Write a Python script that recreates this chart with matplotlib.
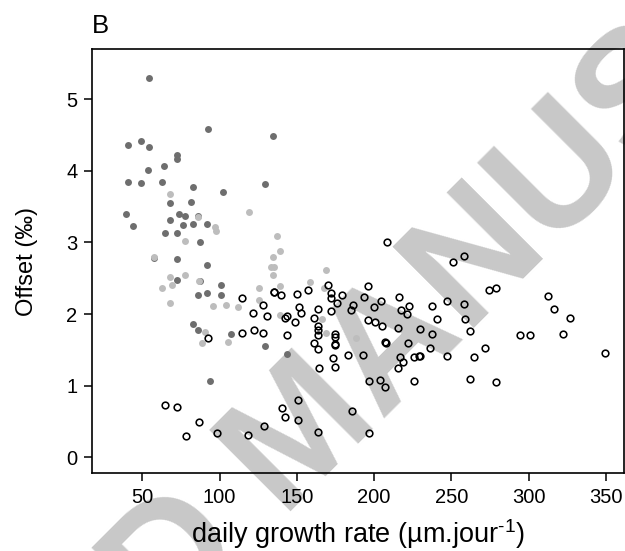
import matplotlib
matplotlib.use("Agg")
import matplotlib.pyplot as plt

plt.rcParams['font.family'] = ['Liberation Sans', 'DejaVu Sans']
plt.rcParams['mathtext.fontset'] = 'custom'
plt.rcParams['mathtext.rm'] = 'Liberation Sans'
plt.rcParams['mathtext.it'] = 'Liberation Sans'

# group 1: dark grey filled points
dark_x = [54.3, 92.6, 40.7, 49.1, 54.3, 72.5, 72.5, 64.0, 53.7, 40.7, 49.1, 62.7, 82.8, 102.3,
          67.9, 81.5, 39.4, 43.9, 73.8, 77.6, 86.1, 67.9, 76.3, 82.8, 91.9, 64.7, 72.5, 87.4,
          57.5, 72.5, 91.9, 134.5, 129.5, 72.5, 87.4, 101.0, 86.1, 91.9, 101.0, 82.8, 86.1,
          107.5, 93.8, 129.5, 143.7]
dark_y = [5.29, 4.58, 4.36, 4.42, 4.33, 4.17, 4.22, 4.07, 4.01, 3.85, 3.83, 3.85, 3.78, 3.71,
          3.55, 3.57, 3.39, 3.23, 3.39, 3.37, 3.37, 3.31, 3.24, 3.26, 3.25, 3.13, 3.13, 3.01,
          2.78, 2.77, 2.69, 4.49, 3.81, 2.48, 2.46, 2.40, 2.27, 2.29, 2.26, 1.86, 1.77,
          1.72, 1.07, 1.55, 1.44]

# group 2: light grey filled points
light_x = [67.9, 97.1, 97.7, 119.1, 77.6, 57.5, 86.1, 67.9, 77.6, 62.7, 69.2, 86.6, 67.9,
           95.8, 104.2, 112.0, 125.6, 125.6, 90.6, 88.7, 105.5, 136.9, 139.2, 134.3, 133.2,
           134.9, 134.3, 169.0, 158.7, 139.2, 167.7, 139.2, 166.0, 169.0, 188.5]
light_y = [3.67, 3.21, 3.16, 3.43, 3.02, 2.80, 3.35, 2.51, 2.55, 2.36, 2.41, 2.46, 2.16,
           2.11, 2.13, 2.10, 2.37, 2.20, 1.75, 1.59, 1.61, 3.09, 2.88, 2.80, 2.66,
           2.65, 2.55, 2.61, 2.44, 2.39, 2.36, 1.99, 1.93, 1.74, 1.66]

# group 3: open circles
open_x = [114.6, 121.7, 92.8, 114.6, 122.2, 127.8, 64.7, 72.3, 86.7, 78.5, 98.4, 118.5,
          170.3, 196.2, 135.1, 135.5, 139.7, 150.2, 157.4, 172.1, 179.0, 172.1, 193.2, 128.4,
          130.8, 142.1, 143.4, 151.1, 152.6, 148.9, 163.6, 161.3, 172.1, 176.0, 185.2, 186.5,
          163.4, 196.2,
          208.2, 250.7, 258.3, 200.1, 204.7, 215.9, 217.4, 222.8, 221.3, 237.1, 247.0, 258.3,
          200.6, 204.9, 215.3, 229.6, 240.4, 258.9,
          274.0, 278.8, 312.5, 316.6, 326.9, 262.2, 294.4, 300.8, 322.0, 271.9, 264.5, 349.2,
          262.2, 278.8,
          143.6, 163.4, 163.4, 174.7, 174.7, 174.7, 174.7, 161.3, 163.4, 164.5, 173.4, 174.7,
          183.3, 192.8, 207.1, 207.6, 222.0, 237.1, 236.4, 247.2, 216.8, 218.5, 225.7, 228.9,
          229.7, 215.3, 196.5, 204.0, 207.1, 225.7, 150.9, 140.3, 142.5, 150.9, 128.8, 163.4,
          185.9, 196.5]
open_y = [2.22, 2.01, 1.66, 1.73, 1.77, 1.73, 0.73, 0.70, 0.49, 0.30, 0.34, 0.31,
          2.41, 2.39, 2.31, 2.31, 2.26, 2.28, 2.34, 2.30, 2.27, 2.23, 2.24, 2.12,
          1.97, 1.94, 1.97, 2.10, 2.01, 1.89, 2.07, 1.94, 2.04, 2.15, 2.06, 2.12,
          1.83, 1.92,
          3.01, 2.72, 2.81, 2.10, 2.18, 2.24, 2.05, 2.11, 2.00, 2.11, 2.18, 2.14,
          1.89, 1.83, 1.80, 1.79, 1.93, 1.93,
          2.33, 2.37, 2.25, 2.07, 1.95, 1.76, 1.70, 1.70, 1.72, 1.53, 1.40, 1.46,
          1.09, 1.05,
          1.71, 1.77, 1.70, 1.72, 1.68, 1.58, 1.57, 1.59, 1.51, 1.24, 1.39, 1.26,
          1.43, 1.43, 1.61, 1.60, 1.59, 1.72, 1.52, 1.41, 1.40, 1.33, 1.40, 1.41,
          1.42, 1.24, 1.06, 1.08, 0.98, 1.07, 0.80, 0.69, 0.56, 0.52, 0.44, 0.35,
          0.64, 0.34]

xticks = [50, 100, 150, 200, 250, 300, 350]
yticks = [0, 1, 2, 3, 4, 5]

W, H = 625, 551
fig = plt.figure(figsize=(W / 100, H / 100), dpi=100)
ax = fig.add_axes([92 / W, 1 - 473 / H, (624 - 92) / W, (473 - 49) / H])
ax.set_facecolor('none')

# watermark (behind the axes content)
fig.text(305 / W, 1 - 436 / H, 'ACCEPTED MANUSCRIPT', fontsize=120, color='#c8c8c8',
         rotation=45, rotation_mode='anchor', ha='center', va='center',
         fontweight='bold', zorder=-5)

ax.plot(dark_x, dark_y, 'o', ms=5, mfc='#6e6e6e', mec='#6e6e6e', mew=0, zorder=3)
ax.plot(light_x, light_y, 'o', ms=5, mfc='#bdbdbd', mec='#bdbdbd', mew=0, zorder=3)
ax.plot(open_x, open_y, 'o', ms=4.8, mfc='none', mec='black', mew=1.15, zorder=4)

ax.set_xlim(17.5, 361.6)
ax.set_ylim(-0.22, 5.70)
ax.set_xticks(xticks)
ax.set_yticks(yticks)
ax.tick_params(direction='out', length=5.5, width=1.1, labelsize=14.5, pad=5, colors='black')
for s in ax.spines.values():
    s.set_linewidth(1.2)

ax.set_xlabel('daily growth rate (µm.jour$^{\u20101}$)', fontsize=19.5, labelpad=8)
ax.set_ylabel('Offset (‰)', fontsize=17, labelpad=20)

fig.text(92 / W, 1 - 33 / H, 'B', fontsize=18.5, ha='left', va='baseline')

fig.savefig('out.png', dpi=100)
